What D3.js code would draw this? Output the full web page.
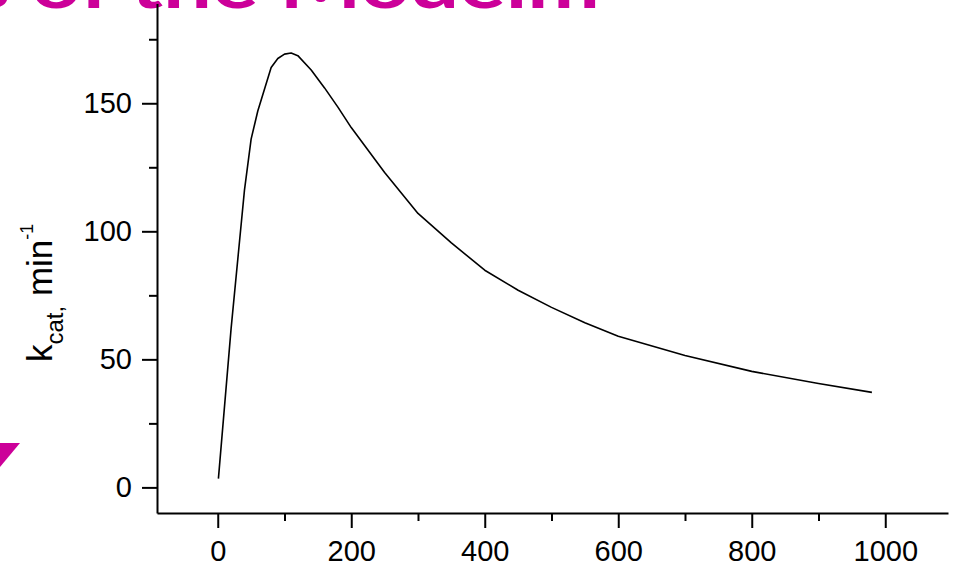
<!DOCTYPE html>
<html>
<head>
<meta charset="utf-8">
<script src="https://cdn.jsdelivr.net/npm/d3@7"></script>
<style>
  html, body { margin: 0; padding: 0; background: #ffffff; }
  svg { display: block; }
</style>
</head>
<body>
<svg id="chart" width="956" height="567"></svg>
<script>
// Substrate concentration and turnover number
const substrate = [1, 20, 40, 50, 60, 80, 90, 100, 110, 120, 140, 160, 180, 200, 250, 300, 350, 400, 450, 500, 550, 600, 700, 800, 900, 980];
const kcat      = [3.4, 62, 116, 136, 147, 164, 167.5, 169.2, 169.6, 168.6, 163, 156, 148.5, 140.5, 123, 107, 95.5, 84.8, 77, 70.3, 64.3, 59, 51.5, 45.3, 40.6, 37.1];

const xMajorTicks = [0, 200, 400, 600, 800, 1000];
const xMinorTicks = [100, 300, 500, 700, 900];
const yMajorTicks = [0, 50, 100, 150];
const yMinorTicks = [25, 75, 125, 175];

const titleText = "s of the Modelm";
const magenta = "#cc0099";

const svg = d3.select("#chart");
svg.append("rect").attr("width", 956).attr("height", 567).attr("fill", "#ffffff");

const x = d3.scaleLinear().domain([-91, 1094]).range([157, 948]);
const y = d3.scaleLinear().domain([-10, 189]).range([513, 3.4]);

const font = "'Liberation Sans', Arial, sans-serif";

// Slide heading (only its lower edge falls inside the frame)
svg.append("text")
  .attr("x", -28).attr("y", 8)
  .attr("textLength", 628)
  .attr("lengthAdjust", "spacingAndGlyphs")
  .attr("font-family", "'Lato', 'DejaVu Sans', sans-serif")
  .attr("font-weight", 700)
  .attr("font-size", 66)
  .attr("fill", magenta)
  .text(titleText);

// Decorative triangle at the left edge
svg.append("path")
  .attr("d", d3.line()([[0, 443], [20, 443], [0, 467]]) + "Z")
  .attr("fill", magenta);

function styleAxis(g) {
  g.selectAll("path.domain").attr("stroke", "#000").attr("stroke-width", 2);
  g.selectAll(".tick line").attr("stroke", "#000").attr("stroke-width", 2);
  g.selectAll(".tick text")
    .attr("font-family", font)
    .attr("font-size", 29)
    .attr("fill", "#000");
}

// X axis: major + minor ticks
const gx = svg.append("g").attr("transform", `translate(0,${y.range()[0]})`);
gx.call(d3.axisBottom(x).tickValues(xMajorTicks).tickSize(15).tickSizeOuter(0).tickPadding(12).tickFormat(d3.format("d")));
styleAxis(gx);
const gxm = svg.append("g").attr("transform", `translate(0,${y.range()[0]})`);
gxm.call(d3.axisBottom(x).tickValues(xMinorTicks).tickSize(8).tickSizeOuter(0).tickFormat(""));
gxm.select("path.domain").remove();
styleAxis(gxm);

// Y axis: major + minor ticks
const gy = svg.append("g").attr("transform", `translate(${x.range()[0]},0)`);
gy.call(d3.axisLeft(y).tickValues(yMajorTicks).tickSize(15).tickSizeOuter(0).tickPadding(10).tickFormat(d3.format("d")));
styleAxis(gy);
const gym = svg.append("g").attr("transform", `translate(${x.range()[0]},0)`);
gym.call(d3.axisLeft(y).tickValues(yMinorTicks).tickSize(8).tickSizeOuter(0).tickFormat(""));
gym.select("path.domain").remove();
styleAxis(gym);

// Y axis title: k_cat, min^-1
const yTitle = svg.append("text")
  .attr("transform", "translate(52,362) rotate(-90)")
  .attr("font-family", font)
  .attr("font-size", 35)
  .attr("fill", "#000");
yTitle.append("tspan").text("k");
yTitle.append("tspan").attr("font-size", 24).attr("dy", 11).text("cat,");
yTitle.append("tspan").attr("dy", -11).text(" min");
yTitle.append("tspan").attr("font-size", 18).attr("dy", -19).text("-1");

// Data curve
const pts = substrate.map((s, i) => [s, kcat[i]]);
svg.append("path")
  .datum(pts)
  .attr("fill", "none")
  .attr("stroke", "#000")
  .attr("stroke-width", 1.6)
  .attr("stroke-linejoin", "round")
  .attr("d", d3.line().x(d => x(d[0])).y(d => y(d[1])));
</script>
</body>
</html>
